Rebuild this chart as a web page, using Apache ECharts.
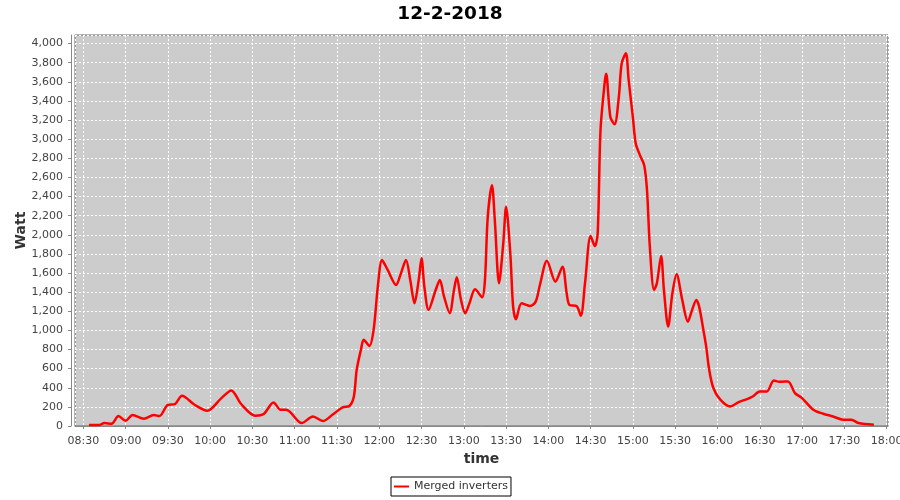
<!DOCTYPE html>
<html>
<head>
<meta charset="utf-8">
<script src="https://cdn.jsdelivr.net/npm/echarts@6/dist/echarts.min.js"></script>
<style>html,body{margin:0;padding:0;background:#fff}#c{width:900px;height:500px}</style>
</head>
<body>
<div id="c"></div>
<script>
const titleText = '12-2-2018';
const seriesName = 'Merged inverters';
const times = ['08:34','08:41','08:45','08:50','08:55','09:00','09:05','09:13','09:20','09:24','09:30','09:35','09:40','09:49','09:58','10:08','10:15','10:22','10:32','10:38','10:45','10:50','10:54','11:05','11:13','11:20','11:27','11:34','11:39','11:42','11:44','11:47','11:49','11:53','11:56','11:59','12:02','12:06','12:12','12:15','12:19','12:22','12:25','12:28','12:30','12:32','12:35','12:40','12:43','12:46','12:50','12:53','12:55','12:58','13:01','13:04','13:08','13:13','13:15','13:17','13:20','13:22','13:25','13:28','13:30','13:33','13:35','13:37','13:41','13:47','13:51','13:54','13:59','14:05','14:10','14:13','14:15','14:20','14:23','14:26','14:30','14:33','14:35','14:37','14:40','14:41','14:44','14:47','14:50','14:52','14:55','14:57','15:00','15:02','15:05','15:08','15:10','15:12','15:15','15:17','15:20','15:22','15:25','15:28','15:31','15:35','15:39','15:42','15:45','15:47','15:50','15:52','15:54','15:57','16:02','16:09','16:15','16:21','16:25','16:30','16:35','16:40','16:44','16:50','16:55','17:00','17:08','17:15','17:22','17:29','17:35','17:40','17:51'];
const watts = [10,10,31,24,104,55,115,76,115,104,222,230,316,222,160,292,372,230,108,125,246,170,170,31,100,52,120,194,212,309,588,797,901,838,1005,1458,1736,1632,1475,1580,1736,1527,1284,1527,1754,1458,1214,1420,1527,1353,1180,1420,1555,1319,1180,1284,1430,1347,1527,2188,2519,2154,1493,1910,2293,1806,1249,1117,1284,1256,1301,1475,1729,1510,1666,1388,1266,1256,1152,1493,1987,1882,2015,3094,3598,3685,3232,3156,3441,3790,3900,3615,3226,2955,2832,2728,2467,1875,1423,1493,1778,1423,1040,1388,1587,1319,1092,1214,1319,1249,1005,830,600,400,275,205,250,282,309,361,361,476,462,466,344,292,170,128,100,66,66,31,14];
const yTicks = {min: 0, max: 4090, step: 200};

function ts(s, sec) {
  const p = s.split(':');
  return new Date(2018, 1, 12, +p[0], +p[1], sec || 0).getTime();
}
const data = times.map((t, i) => [ts(t), watts[i]]);

const chart = echarts.init(document.getElementById('c'), null, {renderer: 'canvas'});
const font = 'DejaVu Sans';
chart.setOption({
  animation: false,
  backgroundColor: '#ffffff',
  title: {
    text: titleText, left: 'center', top: 5, padding: 0,
    textStyle: {fontFamily: font, fontSize: 18.5, fontWeight: 'bold', color: '#000'}
  },
  legend: {
    data: [seriesName], left: 391, top: 477, padding: [4, 3, 4, 3],
    borderColor: '#000', borderWidth: 1, backgroundColor: '#fff',
    icon: 'rect', itemWidth: 15, itemHeight: 2,
    textStyle: {fontFamily: font, fontSize: 11, color: '#333'}
  },
  grid: {
    left: 75, right: 12, top: 35, bottom: 74, show: true,
    outerBoundsMode: 'none', containLabel: false,
    backgroundColor: '#cccccc', borderColor: '#666', borderWidth: 1
  },
  xAxis: {
    type: 'time',
    min: ts('08:24', 7), max: ts('18:01', 0),
    minInterval: 35 * 60 * 1000, maxInterval: 35 * 60 * 1000,
    offset: 3,
    name: 'time', nameLocation: 'middle', nameGap: 23, nameMoveOverlap: false,
    nameTextStyle: {fontFamily: font, fontSize: 14, fontWeight: 'bold', color: '#333'},
    axisLine: {show: true, lineStyle: {color: '#888'}},
    axisTick: {show: true, length: 3, lineStyle: {color: '#888'}},
    axisLabel: {formatter: '{HH}:{mm}', fontFamily: font, fontSize: 11, color: '#444', margin: 7, hideOverlap: false},
    splitLine: {show: true, lineStyle: {color: '#ffffff', type: [2, 2], width: 1}}
  },
  yAxis: {
    type: 'value', min: yTicks.min, max: yTicks.max, interval: yTicks.step,
    offset: 4,
    name: 'Watt', nameLocation: 'middle', nameGap: 43, nameRotate: 90, nameMoveOverlap: false,
    nameTextStyle: {fontFamily: font, fontSize: 14, fontWeight: 'bold', color: '#333'},
    axisLine: {show: true, lineStyle: {color: '#888'}},
    axisTick: {show: true, length: 3, lineStyle: {color: '#888'}},
    axisLabel: {fontFamily: font, fontSize: 11, color: '#444', margin: 8, showMaxLabel: false},
    splitLine: {show: true, lineStyle: {color: '#ffffff', type: [2, 2], width: 1}}
  },
  series: [{
    name: seriesName, type: 'line', data: data,
    showSymbol: false, smooth: 0.3,
    itemStyle: {color: '#ff0000'},
    lineStyle: {color: '#ff0000', width: 2.5}
  }]
});
</script>
</body>
</html>
